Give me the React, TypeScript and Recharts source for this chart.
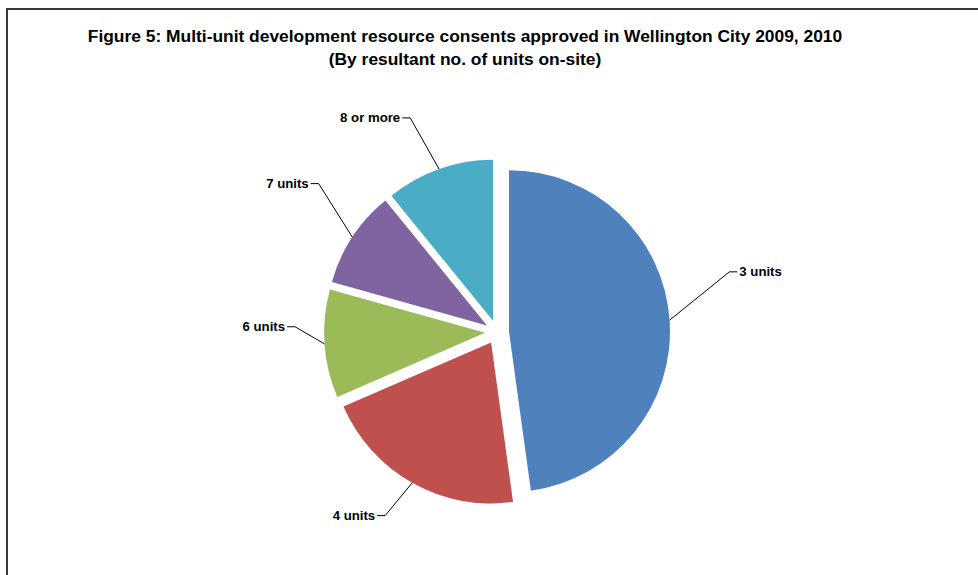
import React from "react"
import { PieChart, Pie, Cell, Sector, Tooltip } from "recharts"

// resultant units on-site
const categories = ["3 units", "4 units", "6 units", "7 units", "8 or more"]
const consents = [44, 19, 10, 9, 10]
const colors = ["#4F81BD", "#C0504D", "#9BBB59", "#8064A2", "#4BACC6"]

// where each label's elbow sits (angle nudge in degrees, distance from centre)
const labelNudge = [10.6, -2, -5.4, -6.5, 2.5]
const labelDist = [240, 215, 202, 232, 231]

const data = categories.map((name, i) => ({ name, value: consents[i] }))

const EXPLODE = 12
const RAD = Math.PI / 180
const FONT = "'Liberation Sans', Arial, sans-serif"

const ExplodedSector = (props: any) => {
  const { cx, cy, midAngle, innerRadius, outerRadius, startAngle, endAngle, fill } = props
  const dx = EXPLODE * Math.cos(-midAngle * RAD)
  const dy = EXPLODE * Math.sin(-midAngle * RAD)
  return (
    <Sector
      cx={cx + dx}
      cy={cy + dy}
      innerRadius={innerRadius}
      outerRadius={outerRadius}
      startAngle={startAngle}
      endAngle={endAngle}
      fill={fill}
      stroke="none"
    />
  )
}

const renderLabel = (props: any) => {
  const { cx, cy, midAngle, outerRadius, index, name } = props
  const ex = cx + EXPLODE * Math.cos(-midAngle * RAD)
  const ey = cy + EXPLODE * Math.sin(-midAngle * RAD)
  const sx = ex + outerRadius * Math.cos(-midAngle * RAD)
  const sy = ey + outerRadius * Math.sin(-midAngle * RAD)
  const a = midAngle + labelNudge[index]
  const mx = cx + labelDist[index] * Math.cos(-a * RAD)
  const my = cy + labelDist[index] * Math.sin(-a * RAD)
  const right = mx > cx
  const hx = mx + (right ? 8 : -8)
  return (
    <g>
      <polyline points={`${sx},${sy} ${mx},${my} ${hx},${my}`} fill="none" stroke="#000" strokeWidth={1} />
      <text
        x={hx + (right ? 2 : -2)}
        y={my}
        dy={4.5}
        textAnchor={right ? "start" : "end"}
        fontFamily={FONT}
        fontSize={13.2}
        fontWeight="bold"
        fill="#000"
      >
        {name}
      </text>
    </g>
  )
}

export default function App() {
  return (
    <div style={{ position: "absolute", left: 0, top: 0, width: 978, height: 575, overflow: "hidden", background: "#fff" }}>
      <div
        style={{
          position: "absolute",
          left: 6,
          top: 8,
          width: 1000,
          height: 600,
          borderTop: "2px solid #3a3a3a",
          borderLeft: "2px solid #3a3a3a",
        }}
      />
      <div
        style={{
          position: "absolute",
          left: 0,
          top: 25,
          width: 930,
          textAlign: "center",
          fontFamily: FONT,
          fontWeight: "bold",
          fontSize: 17.4,
          lineHeight: "23px",
          color: "#000",
        }}
      >
        <div>Figure 5: Multi-unit development resource consents approved in Wellington City 2009, 2010</div>
        <div>(By resultant no. of units on-site)</div>
      </div>
      <div style={{ position: "absolute", left: 0, top: 0 }}>
        <PieChart width={978} height={575}>
          <Pie
            data={data}
            dataKey="value"
            nameKey="name"
            cx={492}
            cy={327}
            outerRadius={161}
            startAngle={90}
            endAngle={-270}
            isAnimationActive={false}
            shape={ExplodedSector}
            activeShape={ExplodedSector}
            inactiveShape={ExplodedSector}
            label={renderLabel}
            labelLine={false}
          >
            {data.map((d, i) => (
              <Cell key={d.name} fill={colors[i]} />
            ))}
          </Pie>
          <Tooltip defaultIndex={0} content={() => null} />
        </PieChart>
      </div>
    </div>
  )
}
